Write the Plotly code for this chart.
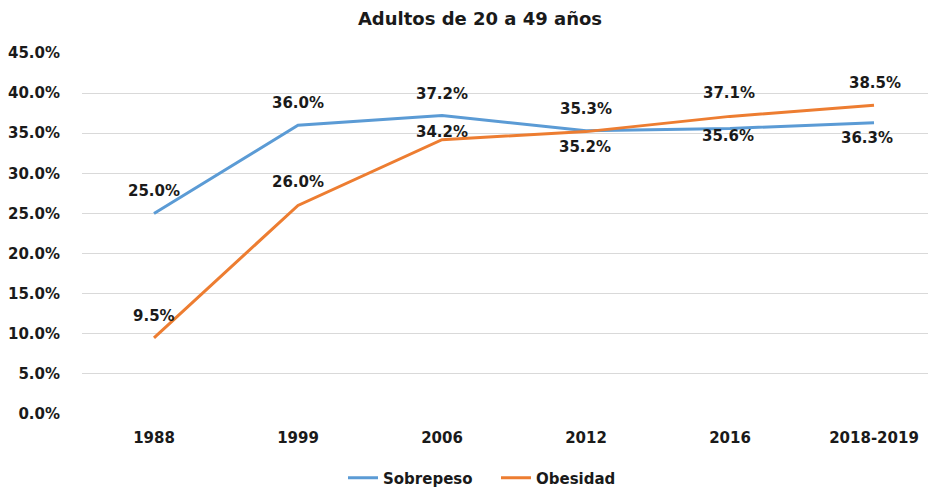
import plotly.graph_objects as go

categories = ["1988", "1999", "2006", "2012", "2016", "2018-2019"]
sobrepeso = [25.0, 36.0, 37.2, 35.3, 35.6, 36.3]
obesidad = [9.5, 26.0, 34.2, 35.2, 37.1, 38.5]
y_ticks = [0, 5, 10, 15, 20, 25, 30, 35, 40, 45]

# label offsets (px) - styling only
sob_yshift = [22, 22, 22, 22, -8, -15]
sob_xshift = [0, 0, 0, 0, -2, -7]
obe_yshift = [22, 23, 8, -15, 23, 22]
obe_xshift = [0, 0, 0, -1, -1, 1]

BLUE = "#5B9BD5"
ORANGE = "#ED7D31"
FONT = "DejaVu Sans"
TXT = "#1a1a1a"
OFF = 8  # page body offset compensation

fig = go.Figure()
fig.add_trace(go.Scatter(x=categories, y=sobrepeso, mode="lines", name="Sobrepeso",
                         line=dict(color=BLUE, width=3)))
fig.add_trace(go.Scatter(x=categories, y=obesidad, mode="lines", name="Obesidad",
                         line=dict(color=ORANGE, width=3)))

annotations = []
for series, ys, xs in ((sobrepeso, sob_yshift, sob_xshift), (obesidad, obe_yshift, obe_xshift)):
    for i, (v, dy, dx) in enumerate(zip(series, ys, xs)):
        annotations.append(dict(x=i, y=v, xref="x", yref="y", text=f"{v:.1f}%",
                                showarrow=False, yshift=dy, xshift=dx,
                                font=dict(family=FONT, size=15, color=TXT, weight="bold")))

fig.update_layout(
    width=936, height=494,
    margin=dict(l=82 - OFF, r=0, t=53 - OFF, b=494 - (414 - OFF)),
    paper_bgcolor="white", plot_bgcolor="white",
    title=dict(text="Adultos de 20 a 49 años", x=(480 - OFF) / 936, xanchor="center", xref="container",
               y=1 - 4 / 494, yanchor="top", yref="container", pad=dict(t=0, b=0),
               font=dict(family=FONT, size=18, color=TXT, weight="bold")),
    xaxis=dict(type="category", range=[-0.5, 5.486], showgrid=False, zeroline=False,
               showline=False, ticks="", ticklabelstandoff=13,
               tickfont=dict(family=FONT, size=15, color=TXT, weight="bold")),
    yaxis=dict(range=[0, 45], tickvals=y_ticks, ticktext=[f"{t:.1f}%" for t in y_ticks],
               showgrid=True, gridcolor="#D9D9D9", gridwidth=1, zeroline=False,
               showline=False, ticks="", ticklabelstandoff=21,
               tickfont=dict(family=FONT, size=15, color=TXT, weight="bold")),
    showlegend=True,
    legend=dict(orientation="h", x=(496 - OFF) / 936, xanchor="center", xref="container",
                y=(494 - (478 - OFF)) / 494, yanchor="middle", yref="container",
                font=dict(family=FONT, size=15, color=TXT, weight="bold"),
                itemwidth=30, entrywidth=108, entrywidthmode="pixels"),
    annotations=annotations,
)

fig.write_html("out.html")
